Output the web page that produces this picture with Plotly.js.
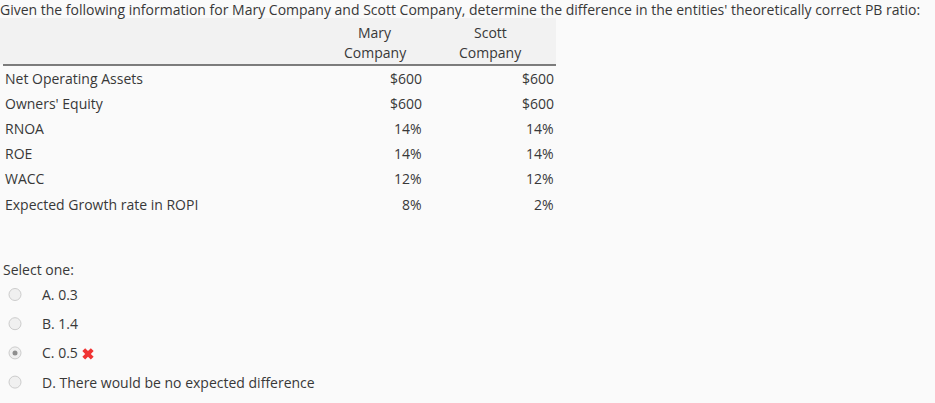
<!DOCTYPE html>
<html><head><meta charset="utf-8">
<script src="https://cdn.plot.ly/plotly-3.0.1.min.js"></script>
<style>html,body{margin:0;padding:0;background:#fafafa;}#chart{width:935px;height:403px;}</style>
</head><body><div id="chart"></div>
<script>
const questionText = "Given the following information for Mary Company and Scott Company, determine the difference in the entities' theoretically correct PB ratio:";
const columnHeaders = [["Mary", "Company"], ["Scott", "Company"]];
const rowLabels = ["Net Operating Assets", "Owners' Equity", "RNOA", "ROE", "WACC", "Expected Growth rate in ROPI"];
const maryValues = ["$600", "$600", "14%", "14%", "12%", "8%"];
const scottValues = ["$600", "$600", "14%", "14%", "12%", "2%"];
const optionLabels = ["A. 0.3", "B. 1.4", "C. 0.5", "D. There would be no expected difference"];
const selectedIndex = 2;

const FONT = "Open Sans, sans-serif";
const TXT = "#383838";
const FS = 14;

const ann = [];
function t(x, y, text, anchor, shift) {
  ann.push({x: x, y: y, xref: "x", yref: "y", text: text, showarrow: false, xshift: shift || 0,
    xanchor: anchor || "left", yanchor: "middle", font: {family: FONT, size: FS, color: TXT}});
}
t(0, 9, questionText, "left", -2);
const colX = [375, 490];
columnHeaders.forEach((h, i) => { t(colX[i], 32, h[0], "center"); t(colX[i], 52, h[1], "center"); });
const rowY0 = 78, rowDy = 25.2;
rowLabels.forEach((lab, i) => {
  const y = rowY0 + i * rowDy;
  t(3, y, lab);
  t(424, y, maryValues[i], "right");
  t(556, y, scottValues[i], "right");
});
t(0.5, 269, "Select one:");
const optY0 = 294.5, optDy = 29.2;
const optYs = optionLabels.map((_, i) => optY0 + i * optDy);
optionLabels.forEach((lab, i) => t(39.5, optYs[i], lab));

const traces = [
  {type: "scatter", mode: "markers", x: optionLabels.map(() => 15), y: optYs,
   marker: {symbol: "circle", size: 12, color: "#f0f0f0", line: {color: "#cccccc", width: 1}},
   hoverinfo: "skip", showlegend: false},
  {type: "scatter", mode: "markers", x: [15], y: [optYs[selectedIndex]],
   marker: {symbol: "circle", size: 5, color: "#8f8f8f"}, hoverinfo: "skip", showlegend: false},
  {type: "scatter", mode: "markers", x: [88], y: [optYs[selectedIndex] + 1],
   marker: {symbol: "x", size: 10, color: "#f03333", line: {width: 0}}, hoverinfo: "skip", showlegend: false}
];

const layout = {
  width: 935, height: 403,
  margin: {l: 0, r: 0, t: 0, b: 0},
  paper_bgcolor: "#fafafa", plot_bgcolor: "#fafafa",
  xaxis: {range: [0, 935], visible: false, fixedrange: true},
  yaxis: {range: [403, 0], visible: false, fixedrange: true},
  shapes: [
    {type: "rect", xref: "x", yref: "y", x0: 0, x1: 556, y0: 18, y1: 64.5, fillcolor: "#f2f2f2", line: {width: 0}, layer: "below"},
    {type: "line", xref: "x", yref: "y", x0: 3, x1: 556, y0: 65, y1: 65, line: {color: "#000000", width: 1}}
  ],
  annotations: ann
};
Plotly.newPlot("chart", traces, layout, {displayModeBar: false, staticPlot: true});
</script></body></html>
